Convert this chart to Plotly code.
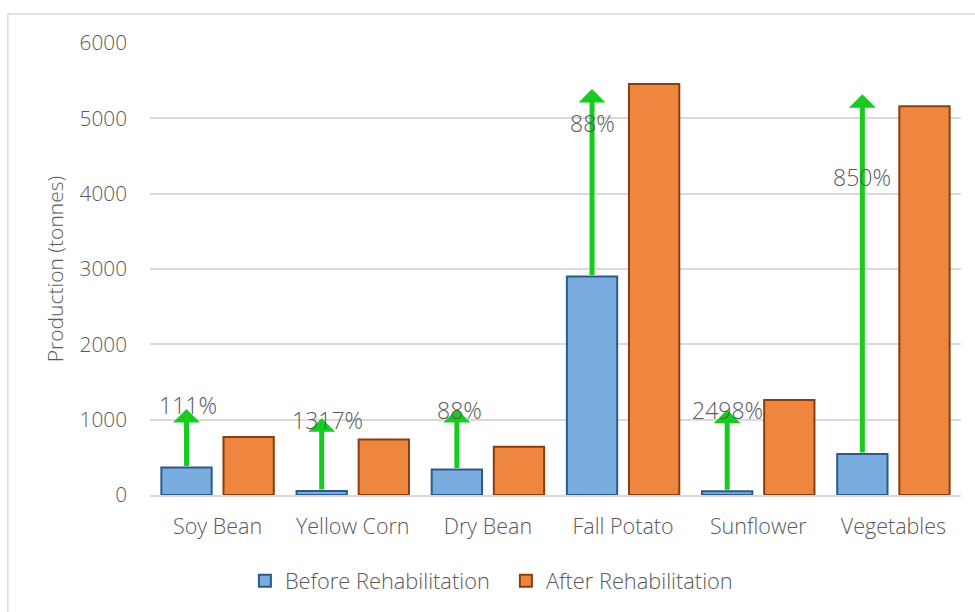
import plotly.graph_objects as go

# Crop production before / after rehabilitation (tonnes)
crops = ["Soy Bean", "Yellow Corn", "Dry Bean", "Fall Potato", "Sunflower", "Vegetables"]
before = [365, 52, 340, 2900, 48.5, 543]
after = [770, 737, 640, 5455, 1260, 5160]
pct_labels = ["111%", "1317%", "88%", "88%", "2498%", "850%"]
arrow_tips = [1140, 1020, 1140, 5390, 1130, 5320]
label_y = [1195, 995, 1128, 4938, 1128, 4221]
label_dx = [0.01, 0.04, 0.02, 0.0, 0.0, 0.0]
y_ticks = [0, 1000, 2000, 3000, 4000, 5000, 6000]

FONT = "Open Sans"
GREY = "#595959"
BARGAP = 0.081
BARGROUPGAP = 0.19
# centre of the "before" bar relative to its category
before_offset = -(1 - BARGAP) / 4

fig = go.Figure()
fig.add_trace(go.Bar(
    name="Before Rehabilitation", x=crops, y=before,
    marker=dict(color="#79ADDF", line=dict(color="#2C5A8A", width=2)),
))
fig.add_trace(go.Bar(
    name="After Rehabilitation", x=crops, y=after,
    marker=dict(color="#EE8640", line=dict(color="#8A3E10", width=2)),
))

annotations = []
for i, crop in enumerate(crops):
    xb = i + before_offset
    # green growth arrow from the top of the "before" bar
    annotations.append(dict(
        x=xb, y=arrow_tips[i], ax=xb, ay=before[i],
        xref="x", yref="y", axref="x", ayref="y",
        text="", showarrow=True, arrowhead=1, arrowsize=0.9,
        arrowwidth=5, arrowcolor="#16CC1E", standoff=0, startstandoff=0,
    ))
for i, crop in enumerate(crops):
    xb = i + before_offset + label_dx[i]
    annotations.append(dict(
        x=xb, y=label_y[i], xref="x", yref="y", text=pct_labels[i],
        showarrow=False, font=dict(family=FONT, size=23, color=GREY, weight=300),
    ))

fig.update_layout(
    width=975, height=612,
    margin=dict(l=150, r=14, t=43, b=117, autoexpand=False),
    paper_bgcolor="white", plot_bgcolor="white",
    barmode="group", bargap=BARGAP, bargroupgap=BARGROUPGAP,
    font=dict(family=FONT, color=GREY, size=20, weight=300),
    legend=dict(orientation="h", x=0.117, xanchor="left", y=-0.144, yanchor="top",
                font=dict(family=FONT, size=21.8, color=GREY, weight=300),
                itemwidth=30, entrywidth=216, traceorder="normal"),
    annotations=annotations,
    shapes=[
        dict(type="line", xref="paper", yref="paper", x0=-0.1753, x1=1.03,
             y0=1.0642, y1=1.0642, line=dict(color="#D9D9D9", width=1.5)),
        dict(type="line", xref="paper", yref="paper", x0=-0.1753, x1=-0.1753,
             y0=1.0642, y1=-0.27, line=dict(color="#D9D9D9", width=1.5)),
    ],
)
fig.update_xaxes(
    showgrid=False, showline=True, linecolor="#D9D9D9", linewidth=2,
    ticks="", automargin=False, ticklabelstandoff=11,
    tickfont=dict(family=FONT, size=21.5, color=GREY, weight=300),
)
fig.update_yaxes(
    range=[0, 6000], tickvals=y_ticks, showgrid=True, gridcolor="#D9D9D9",
    gridwidth=1.5, zeroline=False, showline=False, ticks="", ticklen=0,
    automargin=False,
    tickfont=dict(family=FONT, size=20.8, color=GREY, weight=300), ticklabelstandoff=22,
    title=dict(text="Production (tonnes)",
               font=dict(family=FONT, size=21, color=GREY, weight=300),
               standoff=10),
)

fig.write_html("out.html")
